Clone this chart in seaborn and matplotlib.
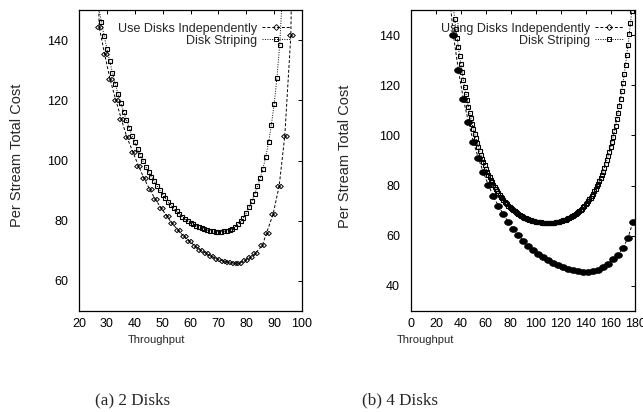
import numpy as np
import seaborn as sns
import matplotlib.pyplot as plt
from matplotlib.path import Path
from matplotlib.lines import Line2D

# (a) 2 Disks - Use Disks Independently
indep2_x = [26.8, 27.2, 29.2, 31.1, 33.2, 35.2, 37.1, 39.3, 41.3, 43.3, 45.3, 47.3,
            49.4, 51.4, 53.4, 55.5, 57.5, 59.5, 61.5, 63.5, 65.5, 67.5, 69.5, 71.5,
            73.5, 75.5, 77.5, 79.5, 81.5, 83.3, 85.8, 87.3, 89.6, 91.8, 93.8, 96.0, 96.4]
indep2_y = [165.0, 144.5, 135.3, 127.1, 120.1, 113.7, 107.9, 102.9, 98.3, 94.1, 90.5, 87.2,
            84.3, 81.7, 79.1, 76.9, 74.9, 73.3, 71.7, 70.4, 69.2, 68.2, 67.4, 66.7,
            66.2, 65.9, 66.0, 66.8, 67.8, 69.2, 71.9, 76.0, 82.1, 91.5, 108.0, 141.7, 170.0]

# (a) 2 Disks - Disk Striping
stripe2_x = list(range(27, 94))
stripe2_y = [151.0, 146.1, 141.5, 137.1, 133.0, 129.2, 125.5, 122.1, 119.0, 116.2,
             113.5, 110.8, 108.3, 106.0, 103.8, 101.7, 99.7, 97.8, 96.2, 94.6,
             93.1, 91.6, 90.1, 88.7, 87.4, 86.2, 85.1, 84.1, 83.1, 82.2,
             81.4, 80.6, 79.9, 79.3, 78.8, 78.3, 77.9, 77.5, 77.2, 76.9,
             76.7, 76.5, 76.4, 76.4, 76.4, 76.5, 76.7, 77.0, 77.4, 78.0,
             78.8, 79.8, 81.0, 82.5, 84.4, 86.5, 88.8, 91.4, 94.2, 97.3,
             101.3, 106.0, 111.8, 118.7, 127.5, 138.5, 156.0]

# (b) 4 Disks - Using Disks Independently
indep4_x = [30, 34, 38, 42, 46, 50, 54, 58, 62, 66, 70, 74, 78, 82, 86, 90, 94, 98,
            102, 106, 110, 114, 118, 122, 126, 130, 134, 138, 142, 146, 150, 154,
            158, 162, 166, 170, 174, 178]
indep4_y = [160.0, 140.0, 126.0, 114.5, 105.5, 97.5, 91.0, 85.3, 80.3, 75.8, 72.0, 68.6,
            65.5, 62.8, 60.3, 58.1, 56.1, 54.4, 52.8, 51.4, 50.2, 49.1, 48.2, 47.4,
            46.8, 46.3, 45.9, 45.7, 45.7, 45.9, 46.5, 47.4, 48.8, 50.6, 52.5, 55.0,
            59.3, 65.5]

# (b) 4 Disks - Disk Striping
stripe4_x = list(range(34, 179))
stripe4_y = [151.0, 146.5, 142.5, 138.7, 135.1, 131.6, 128.3, 125.2, 122.2, 119.3,
             116.6, 114.0, 111.5, 109.1, 106.9, 104.7, 102.7, 100.7, 98.9, 97.1,
             95.4, 93.8, 92.3, 90.8, 89.4, 88.1, 86.8, 85.6, 84.4, 83.3,
             82.3, 81.3, 80.3, 79.4, 78.6, 77.8, 77.0, 76.2, 75.5, 74.9,
             74.2, 73.6, 73.0, 72.5, 72.0, 71.5, 71.0, 70.6, 70.1, 69.7,
             69.3, 69.0, 68.6, 68.3, 68.0, 67.7, 67.5, 67.2, 67.0, 66.8,
             66.6, 66.4, 66.2, 66.0, 65.9, 65.7, 65.6, 65.5, 65.4, 65.3,
             65.3, 65.2, 65.2, 65.1, 65.1, 65.1, 65.1, 65.1, 65.1, 65.1,
             65.2, 65.2, 65.3, 65.4, 65.5, 65.6, 65.8, 65.9, 66.1, 66.2,
             66.4, 66.6, 66.9, 67.1, 67.4, 67.7, 68.0, 68.3, 68.7, 69.0,
             69.4, 69.9, 70.3, 70.8, 71.3, 71.9, 72.5, 73.1, 73.8, 74.5,
             75.2, 76.0, 76.8, 77.7, 78.7, 79.7, 80.7, 81.8, 83.0, 84.3,
             85.6, 87.0, 88.5, 90.1, 91.7, 93.5, 95.3, 97.3, 99.4, 101.6,
             103.9, 106.4, 109.0, 111.7, 114.6, 117.7, 121.0, 124.4, 128.1, 131.9,
             136.0, 140.3, 144.8, 149.6, 154.8]

sns.set_style("white")
plt.rcParams["font.family"] = ["Liberation Sans", "DejaVu Sans"]

# gnuplot-like double diamond marker
dd_verts = [(-0.9, 0), (-0.35, 0.5), (0.2, 0), (-0.35, -0.5), (-0.9, 0),
            (-0.2, 0), (0.35, 0.5), (0.9, 0), (0.35, -0.5), (-0.2, 0)]
dd_codes = [Path.MOVETO, Path.LINETO, Path.LINETO, Path.LINETO, Path.CLOSEPOLY] * 2
dd_marker = Path(dd_verts, dd_codes)

# wide blob marker (overlapping diamonds in the 4 disk case)
t = np.linspace(0, 2 * np.pi, 33)
blob_marker = Path(np.column_stack([np.cos(t), 0.75 * np.sin(t)]), closed=True)

dash = (0, (3, 2))
dot = (0, (1, 1.5))

fig = plt.figure(figsize=(6.43, 4.12), dpi=100)
ax1 = fig.add_axes([0.1229, 0.2451, 0.3468, 0.7306])
ax2 = fig.add_axes([0.6392, 0.2451, 0.3491, 0.7306])

#--Left panel: 2 disks--
sns.lineplot(x=indep2_x, y=indep2_y, ax=ax1, color="black", linestyle=dash,
             linewidth=0.7, marker=dd_marker, markersize=5.5,
             markerfacecolor="none", markeredgecolor="black",
             markeredgewidth=0.7, sort=False, estimator=None)
sns.lineplot(x=stripe2_x, y=stripe2_y, ax=ax1, color="black", linestyle=dot,
             linewidth=0.7, marker="s", markersize=3.5,
             markerfacecolor="none", markeredgecolor="black",
             markeredgewidth=0.8, sort=False, estimator=None)
ax1.set_xlim(20, 100)
ax1.set_ylim(50, 150)
ax1.set_xticks(range(20, 101, 10))
ax1.set_yticks(range(60, 141, 20))

#--Right panel: 4 disks--
sns.lineplot(x=indep4_x, y=indep4_y, ax=ax2, color="black", linestyle=dash,
             linewidth=0.7, marker=blob_marker, markersize=5.6,
             markerfacecolor="black", markeredgecolor="black",
             markeredgewidth=0.5, sort=False, estimator=None)
sns.lineplot(x=stripe4_x, y=stripe4_y, ax=ax2, color="black", linestyle=dot,
             linewidth=0.7, marker="s", markersize=3.1,
             markerfacecolor="none", markeredgecolor="black",
             markeredgewidth=0.8, sort=False, estimator=None)
ax2.set_xlim(0, 180)
ax2.set_ylim(30, 150)
ax2.set_xticks(range(0, 181, 20))
ax2.set_yticks(range(40, 141, 20))

labels = {ax1: "Use Disks Independently", ax2: "Using Disks Independently"}
for ax in (ax1, ax2):
    for s in ax.spines.values():
        s.set_linewidth(0.9)
        s.set_color("black")
    ax.tick_params(direction="in", length=3, width=0.7, top=True, right=True,
                   labelsize=9, colors="black")
    ax.tick_params(axis="x", pad=5)
    ax.tick_params(axis="y", pad=8)
    ax.set_ylabel("Per Stream Total Cost", fontsize=10.5)
    ax.set_xlabel("Throughput", fontsize=8)
    handles = [
        Line2D([], [], color="black", linestyle=dash, linewidth=0.7, marker="D",
               markersize=3, markerfacecolor="none", markeredgewidth=0.6),
        Line2D([], [], color="black", linestyle=dot, linewidth=0.7, marker="s",
               markersize=3.3, markerfacecolor="none", markeredgewidth=0.7),
    ]
    ax.legend(handles, [labels[ax], "Disk Striping"], loc="upper right",
              frameon=False, markerfirst=False, fontsize=9, handlelength=2.2,
              handletextpad=0.4, labelspacing=0.0, borderaxespad=0.6)

ax1.yaxis.set_label_coords(-0.2466, 0.518)
ax2.yaxis.set_label_coords(-0.263, 0.513)
ax1.xaxis.set_label_coords(0.345, -0.081)
ax2.xaxis.set_label_coords(0.065, -0.081)

fig.text(132.5 / 643, 1 - 400 / 412, "(a) 2 Disks", family="Liberation Serif",
         fontsize=12.3, ha="center", va="center")
fig.text(400 / 643, 1 - 400 / 412, "(b) 4 Disks", family="Liberation Serif",
         fontsize=12.3, ha="center", va="center")

fig.savefig("out.png", dpi=100, facecolor="white")
